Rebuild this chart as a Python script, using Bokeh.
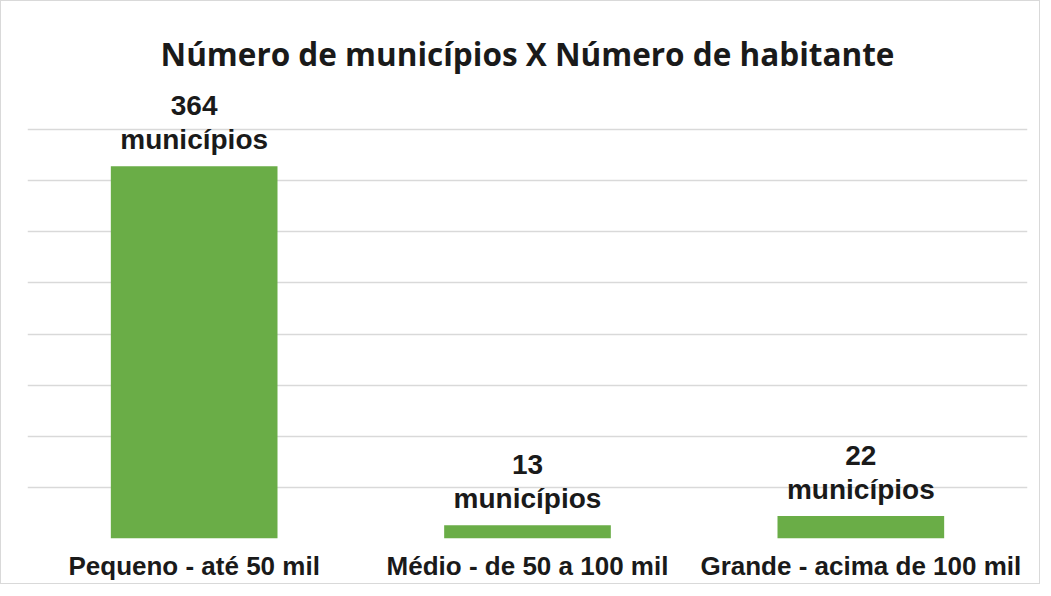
from bokeh.plotting import figure
from bokeh.models import ColumnDataSource, FixedTicker, Range1d
from bokeh.core.properties import value
from bokeh.embed import file_html
from bokeh.resources import INLINE

categories = ["Pequeno - até 50 mil", "Médio - de 50 a 100 mil", "Grande - acima de 100 mil"]
counts = [364, 13, 22]
labels = ["364\nmunicípios", "13\nmunicípios", "22\nmunicípios"]
grid_ticks = [0, 50, 100, 150, 200, 250, 300, 350, 400]

src = ColumnDataSource(dict(cat=categories, n=counts, lab=labels))

p = figure(x_range=categories, y_range=Range1d(0, 447), width=1040, height=584,
           output_backend="svg", toolbar_location=None,
           title="Número de municípios X Número de habitante",
           min_border_left=26, min_border_right=14, min_border_top=80, min_border_bottom=47)
p.styles = {"border": "1px solid #d9d9d9"}

p.title.align = "center"
p.title.text_font = "Open Sans"
p.title.text_font_style = "bold"
p.title.text_font_size = "31.5px"
p.title.text_color = "#1a1a1a"
p.title.standoff = 13

p.vbar(x="cat", top="n", width=0.5, source=src, fill_color="#6aad47", line_color=None)
p.text(x="cat", y="n", text="lab", source=src, text_align="center", text_baseline="bottom",
       y_offset=-11, text_font=value("Liberation Sans"), text_font_style="bold",
       text_font_size="28px", text_line_height=1.1, text_color="#1a1a1a")

p.outline_line_color = None
p.xgrid.grid_line_color = None
p.ygrid.ticker = FixedTicker(ticks=grid_ticks)
p.ygrid.grid_line_color = "#d9d9d9"
p.ygrid.grid_line_width = 1.5
p.yaxis.visible = False

p.xaxis.axis_line_color = None
p.xaxis.major_tick_line_color = None
p.xaxis.minor_tick_line_color = None
p.xaxis.major_tick_out = 0
p.xaxis.major_tick_in = 0
p.xaxis.major_label_text_font = "Liberation Sans"
p.xaxis.major_label_text_font_style = "bold"
p.xaxis.major_label_text_font_size = "26px"
p.xaxis.major_label_text_color = "#1a1a1a"
p.xaxis.major_label_standoff = 12
p.x_range.range_padding = 0.0

open("out.html", "w").write(file_html(p, INLINE))
